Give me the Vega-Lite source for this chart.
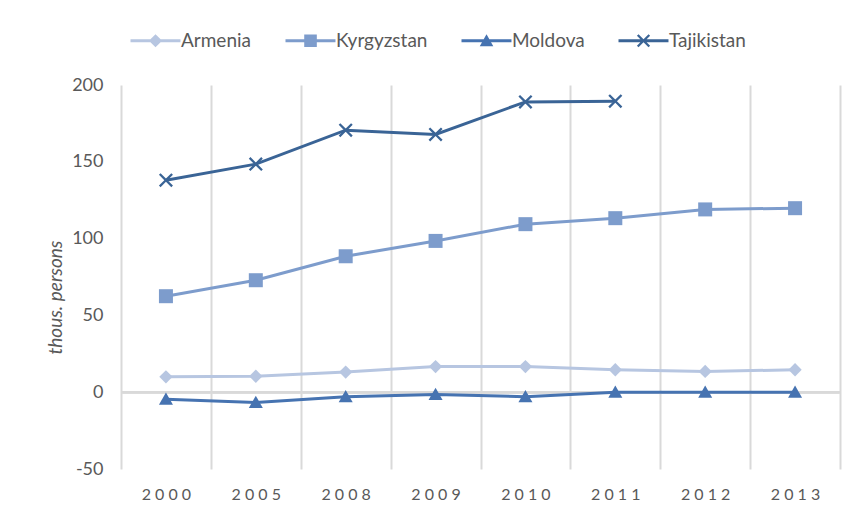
{
  "$schema": "https://vega.github.io/schema/vega-lite/v6.json",
  "width": 719,
  "height": 384,
  "autosize": {"type": "none"},
  "padding": {"left": 121, "top": 85, "right": 11, "bottom": 47},
  "background": "white",
  "config": {
    "view": {"stroke": null},
    "font": "Lato",
    "axis": {"labelColor": "#595959", "titleColor": "#595959"},
    "legend": {"labelColor": "#595959"}
  },
  "data": {
    "values": [
      {"year": "2000", "country": "Armenia", "value": 10},
      {"year": "2005", "country": "Armenia", "value": 10.4},
      {"year": "2008", "country": "Armenia", "value": 13.1},
      {"year": "2009", "country": "Armenia", "value": 16.7},
      {"year": "2010", "country": "Armenia", "value": 16.7},
      {"year": "2011", "country": "Armenia", "value": 14.6},
      {"year": "2012", "country": "Armenia", "value": 13.5},
      {"year": "2013", "country": "Armenia", "value": 14.6},
      {"year": "2000", "country": "Kyrgyzstan", "value": 62.5},
      {"year": "2005", "country": "Kyrgyzstan", "value": 72.9},
      {"year": "2008", "country": "Kyrgyzstan", "value": 88.5},
      {"year": "2009", "country": "Kyrgyzstan", "value": 98.5},
      {"year": "2010", "country": "Kyrgyzstan", "value": 109.4},
      {"year": "2011", "country": "Kyrgyzstan", "value": 113.3},
      {"year": "2012", "country": "Kyrgyzstan", "value": 119},
      {"year": "2013", "country": "Kyrgyzstan", "value": 119.8},
      {"year": "2000", "country": "Moldova", "value": -4.6},
      {"year": "2005", "country": "Moldova", "value": -6.7},
      {"year": "2008", "country": "Moldova", "value": -2.9},
      {"year": "2009", "country": "Moldova", "value": -1.5},
      {"year": "2010", "country": "Moldova", "value": -2.9},
      {"year": "2011", "country": "Moldova", "value": 0},
      {"year": "2012", "country": "Moldova", "value": 0},
      {"year": "2013", "country": "Moldova", "value": 0},
      {"year": "2000", "country": "Tajikistan", "value": 138},
      {"year": "2005", "country": "Tajikistan", "value": 148.5},
      {"year": "2008", "country": "Tajikistan", "value": 170.6},
      {"year": "2009", "country": "Tajikistan", "value": 167.8},
      {"year": "2010", "country": "Tajikistan", "value": 189},
      {"year": "2011", "country": "Tajikistan", "value": 189.5}
    ]
  },
  "encoding": {
    "x": {
      "field": "year",
      "type": "ordinal",
      "scale": {"paddingInner": 0, "paddingOuter": 0},
      "axis": {
        "title": null,
        "labelAngle": 0,
        "labelFontSize": 16,
        "labelPadding": 17,
        "labelExpr": "join(split(datum.label, ''), ' ')",
        "tickBand": "extent",
        "ticks": false,
        "domain": false,
        "grid": true,
        "gridColor": "#d9d9d9",
        "gridWidth": 2
      }
    },
    "y": {
      "field": "value",
      "type": "quantitative",
      "scale": {"domain": [-50, 200], "nice": false, "zero": false},
      "axis": {
        "values": [-50, 0, 50, 100, 150, 200],
        "labelExpr": "'' + datum.value",
        "title": "thous. persons",
        "titleFontStyle": "italic",
        "titleFontWeight": "normal",
        "titleFontSize": 19,
        "titleX": -66,
        "titleY": 212,
        "titleAngle": 270,
        "titleBaseline": "middle",
        "titleAlign": "center",
        "labelFontSize": 18,
        "labelPadding": 18,
        "ticks": false,
        "domain": false,
        "grid": false
      }
    }
  },
  "layer": [
    {
      "mark": {"type": "rule", "color": "#d9d9d9", "strokeWidth": 2},
      "encoding": {"y": {"datum": 0}, "x": null}
    },
    {
      "mark": {"type": "line", "strokeWidth": 3},
      "encoding": {
        "color": {
          "field": "country",
          "type": "nominal",
          "scale": {"domain": ["Armenia", "Kyrgyzstan", "Moldova", "Tajikistan"], "range": ["#b7c6e1", "#7d9ccc", "#4673b1", "#3a6496"]},
          "legend": null
        }
      }
    },
    {
      "mark": {"type": "point", "filled": true, "opacity": 1, "size": 196, "strokeWidth": 0},
      "encoding": {
        "color": {
          "field": "country",
          "type": "nominal",
          "scale": {"domain": ["Armenia", "Kyrgyzstan", "Moldova", "Tajikistan"], "range": ["#b7c6e1", "#7d9ccc", "#4673b1", "#3a6496"]},
          "legend": null
        },
        "shape": {
          "field": "country",
          "type": "nominal",
          "scale": {
            "domain": ["Armenia", "Kyrgyzstan", "Moldova", "Tajikistan"],
            "range": [
              "M0,-0.95L0.95,0L0,0.95L-0.95,0Z",
              "M-1,-1H1V1H-1Z",
              "M0,-0.95L1,0.8H-1Z",
              "M-1,-0.77L-0.77,-1L0,-0.23L0.77,-1L1,-0.77L0.23,0L1,0.77L0.77,1L0,0.23L-0.77,1L-1,0.77L-0.23,0Z"
            ]
          },
          "legend": null
        }
      }
    },
    {
      "mark": {"type": "point", "filled": true, "opacity": 0, "size": 1},
      "encoding": {
        "color": {
          "field": "country",
          "type": "nominal",
          "scale": {"domain": ["Armenia", "Kyrgyzstan", "Moldova", "Tajikistan"], "range": ["#b7c6e1", "#7d9ccc", "#4673b1", "#3a6496"]},
          "legend": {
            "title": null,
            "orient": "none",
            "direction": "horizontal",
            "legendX": 6,
            "legendY": -54,
            "symbolSize": 144,
            "symbolOpacity": 1,
            "symbolStrokeWidth": 0,
            "labelOffset": 35,
            "labelFontSize": 19,
            "columnPadding": 30
          }
        },
        "shape": {
          "field": "country",
          "type": "nominal",
          "scale": {
            "domain": ["Armenia", "Kyrgyzstan", "Moldova", "Tajikistan"],
            "range": [
              "M-1,-0.25H7.33V0.25H-1Z M3.17,-1.1L4.27,0L3.17,1.1L2.07,0Z",
              "M-1,-0.25H7.33V0.25H-1Z M2.12,-1.05H4.22V1.05H2.12Z",
              "M-1,-0.25H7.33V0.25H-1Z M3.17,-1.1L4.3,0.9H2.04Z",
              "M-1,-0.25H7.33V0.25H-1Z M2.07,-0.83L2.34,-1.1L3.17,-0.27L4,-1.1L4.27,-0.83L3.44,0L4.27,0.83L4,1.1L3.17,0.27L2.34,1.1L2.07,0.83L2.9,0Z"
            ]
          },
          "legend": {
            "title": null,
            "orient": "none",
            "direction": "horizontal",
            "legendX": 6,
            "legendY": -54,
            "symbolSize": 144,
            "symbolOpacity": 1,
            "symbolStrokeWidth": 0,
            "labelOffset": 35,
            "labelFontSize": 19,
            "columnPadding": 30
          }
        }
      }
    }
  ],
  "resolve": {"scale": {"shape": "independent", "color": "independent"}}
}
